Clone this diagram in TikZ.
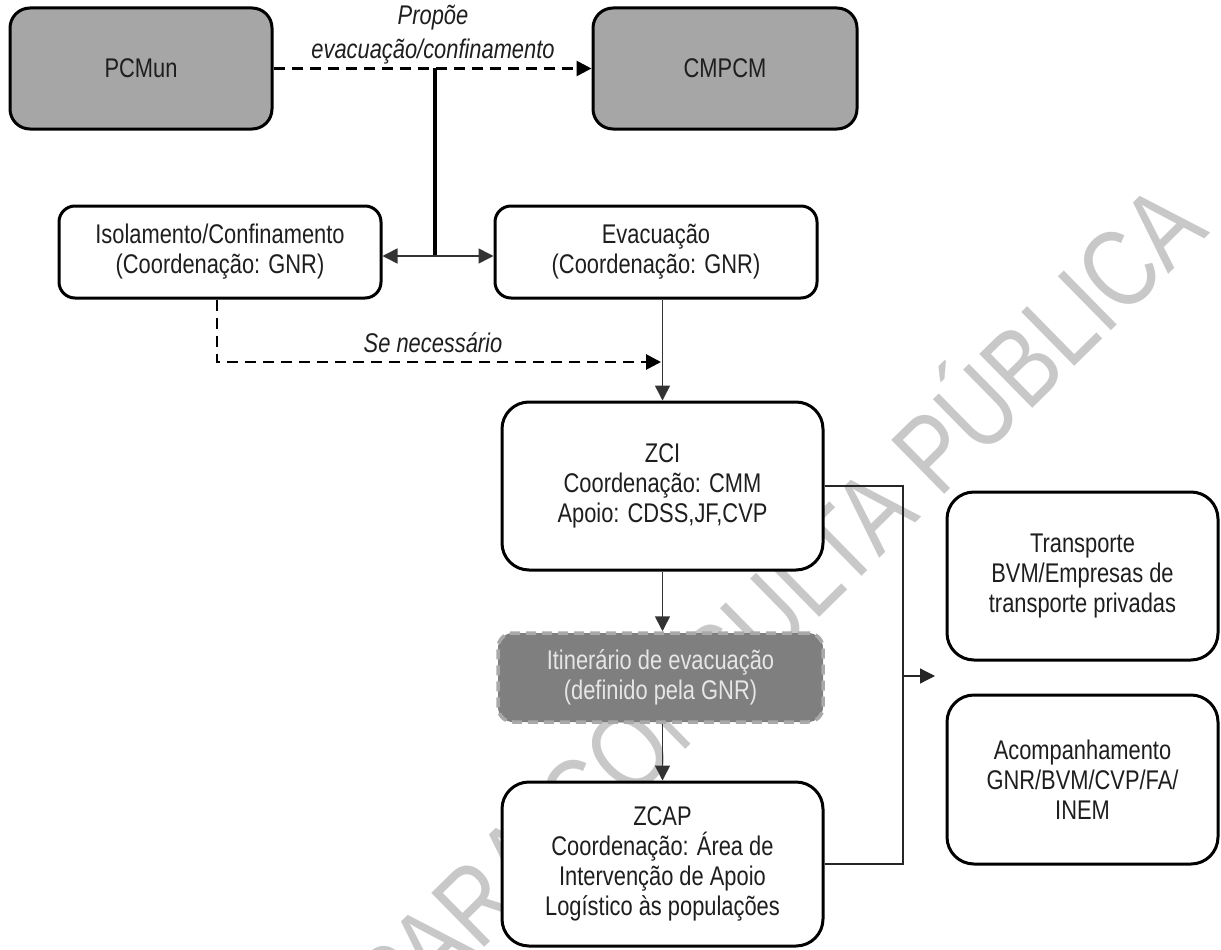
\documentclass[tikz,border=0pt]{standalone}
\usepackage{fontspec}
\setmainfont{Liberation Sans}[FakeStretch=0.81]
\usetikzlibrary{arrows.meta}

\definecolor{boxgray}{HTML}{A6A6A6}
\definecolor{routegray}{HTML}{7F7F7F}
\definecolor{routeedge}{HTML}{A9A9A9}
\definecolor{routetext}{HTML}{E6E6E6}
\definecolor{inkgray}{HTML}{1E1E1E}
\definecolor{markgray}{HTML}{C8C8C8}

\begin{document}
\begin{tikzpicture}[x=1pt,y=-1pt,
  txt/.style={font=\fontsize{27}{30}\selectfont, text=inkgray, align=center},
  box/.style={txt, draw=black, line width=3pt, fill=white, inner sep=0pt},
  headbox/.style={box, fill=boxgray, rounded corners=20pt},
  midbox/.style={box, rounded corners=16pt},
  bigbox/.style={box, rounded corners=27pt},
  routebox/.style={txt, text=routetext, fill=routegray, draw=routeedge,
    line width=3.5pt, dash pattern=on 10pt off 6pt, rounded corners=15pt, inner sep=0pt},
  tip/.style={-{Triangle[length=15pt,width=15pt]}},
  dashline/.style={line width=2.8pt, dash pattern=on 11pt off 7pt, tip},
  thinline/.style={line width=1.6pt, draw=black!80, tip},
  wire/.style={line width=1.2pt, draw=black!85},
  note/.style={txt, font=\fontsize{27}{34}\selectfont\itshape},
]
\useasboundingbox (0,0) rectangle (1221,950);

% watermark behind the chart
\node[markgray, rotate=44.5, font=\fontsize{110}{110}\selectfont]
  (mark) at (772,598) {PARA CONSULTA PÚBLICA};

% boxes
\node[headbox, minimum width=262pt, minimum height=121pt] (pcmun) at (141,68.5) {PCMun};
\node[headbox, minimum width=264pt, minimum height=121pt] (cmpcm) at (725,68.5) {CMPCM};
\node[midbox, minimum width=322pt, minimum height=92pt] (iso) at (220,252)
  {Isolamento/Confinamento\\(Coordenação: GNR)};
\node[midbox, minimum width=322pt, minimum height=92pt] (evac) at (656,252)
  {Evacuação\\(Coordenação: GNR)};
\node[bigbox, minimum width=321pt, minimum height=168pt] (zci) at (662.5,486)
  {ZCI\\Coordenação: CMM\\Apoio: CDSS,JF,CVP};
\node[routebox, minimum width=325pt, minimum height=89pt] (route) at (660.5,677.5)
  {Itinerário de evacuação\\(definido pela GNR)};
\node[bigbox, minimum width=321pt, minimum height=164pt] (zcap) at (662.5,864)
  {ZCAP\\Coordenação: Área de\\Intervenção de Apoio\\Logístico às populações};
\node[bigbox, minimum width=271pt, minimum height=168pt] (transp) at (1082.5,576)
  {Transporte\\BVM/Empresas de\\transporte privadas};
\node[bigbox, minimum width=271pt, minimum height=169pt] (acomp) at (1082.5,779.5)
  {Acompanhamento\\GNR/BVM/CVP/FA/\\INEM};

% proposal from PCMun to CMPCM
\draw[dashline] (pcmun.east) -- (cmpcm.west);
\node[note] (propoe) at (433,35) {Propõe\\evacuação/confinamento};

% decision fork
\coordinate (fork) at (435,256);
\draw[line width=3.2pt] (fork |- pcmun.east) -- (fork);
\draw[thinline] (fork) -- (fork -| iso.east);
\draw[thinline] (fork) -- (fork -| evac.west);

% optional path from isolation to the ZCI
\coordinate (merge) at (661,362);
\draw[dashline] ([xshift=-3pt]iso.south) |- (merge);
\node[note] (senec) at (433,343) {Se necessário};

% main evacuation chain
\draw[thinline] (zci.north |- evac.south) -- (zci.north);
\draw[thinline] (zci.south) -- (zci.south |- route.north);
\draw[thinline] (zcap.north |- route.south) -- (zcap.north);

% support services
\coordinate (bus) at (903,676);
\coordinate (busend) at (935,676);
\draw[wire] (zci.east) -- (zci.east -| bus) -- (zcap.east -| bus) -- (zcap.east);
\draw[wire, tip] (bus) -- (busend);
\end{tikzpicture}
\end{document}
